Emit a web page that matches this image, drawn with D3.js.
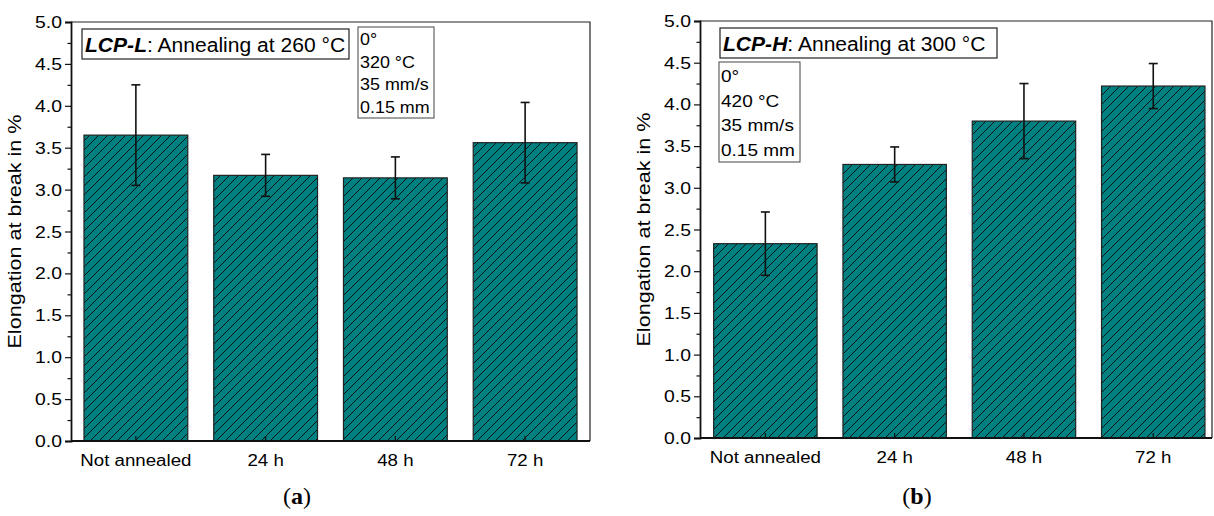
<!DOCTYPE html>
<html>
<head>
<meta charset="utf-8">
<script src="https://cdn.jsdelivr.net/npm/d3@7"></script>
<style>
  html, body { margin: 0; padding: 0; background: #fff; }
  svg { display: block; }
  text { font-family: "Liberation Sans", Arial, sans-serif; fill: #000; }
</style>
</head>
<body>
<svg id="fig" width="1214" height="516"></svg>
<script>
// Categories shared by both panels
const categories = ["Not annealed", "24 h", "48 h", "72 h"];

// Panel (a): LCP-L annealed at 260 °C
const lcpLMean = [3.65, 3.17, 3.14, 3.56];
const lcpLErr  = [0.60, 0.25, 0.25, 0.48];

// Panel (b): LCP-H annealed at 300 °C
const lcpHMean = [2.33, 3.28, 3.80, 4.22];
const lcpHErr  = [0.38, 0.21, 0.45, 0.27];

// Axis ticks
const yMajorTicks = [0, 0.5, 1, 1.5, 2, 2.5, 3, 3.5, 4, 4.5, 5];
const yMinorTicks = [0.25, 0.75, 1.25, 1.75, 2.25, 2.75, 3.25, 3.75, 4.25, 4.75];

const yTitle = "Elongation at break in %";

const panels = [
  {
    mean: lcpLMean, err: lcpLErr,
    material: "LCP-L", anneal: ": Annealing at 260 °C",
    params: ["0°", "320 °C", "35 mm/s", "0.15 mm"],
    caption: "a",
    box: { left: 71, right: 590, top: 22, bottom: 441 },
    outer: 0.1, align: 0.5,
    titleBox: { x: 82, y: 29, w: 267, h: 30 },
    paramBox: { x: 358, y: 27, w: 76, h: 91, size: 16.3, lead: 22.5, first: 18 },
    captionX: 297
  },
  {
    mean: lcpHMean, err: lcpHErr,
    material: "LCP-H", anneal: ": Annealing at 300 °C",
    params: ["0°", "420 °C", "35 mm/s", "0.15 mm"],
    caption: "b",
    box: { left: 700, right: 1212, top: 21, bottom: 438 },
    outer: 0.08, align: 0.66,
    titleBox: { x: 720, y: 28, w: 277, h: 30 },
    paramBox: { x: 719, y: 62, w: 81, h: 100, size: 17.3, lead: 24.5, first: 20 },
    captionX: 917
  }
];

// Widen glyphs slightly, as the figure's sans-serif is set a bit wide
function stretch(sel, f) {
  sel.each(function () {
    const len = this.getComputedTextLength();
    this.setAttribute("textLength", (len * f).toFixed(2));
    this.setAttribute("lengthAdjust", "spacingAndGlyphs");
  });
}

const svg = d3.select("#fig");

// Diagonal hatch over the teal fill
const defs = svg.append("defs");
const pat = defs.append("pattern")
  .attr("id", "hatch")
  .attr("patternUnits", "userSpaceOnUse")
  .attr("width", 9).attr("height", 9);
pat.append("rect").attr("width", 9).attr("height", 9).attr("fill", "#008080");
pat.append("path")
  .attr("d", "M0,9 L9,0 M-2,2 L2,-2 M7,11 L11,7")
  .attr("stroke", "#111").attr("stroke-width", 1);

panels.forEach(p => {
  const b = p.box;
  const g = svg.append("g");

  const x = d3.scaleBand().domain(categories).range([b.left, b.right])
    .paddingInner(0.2).paddingOuter(p.outer).align(p.align);
  const y = d3.scaleLinear().domain([0, 5]).range([b.bottom, b.top]);

  // Bars
  g.selectAll("rect.bar").data(categories).join("rect")
    .attr("class", "bar")
    .attr("x", d => x(d))
    .attr("width", x.bandwidth())
    .attr("y", (d, i) => y(p.mean[i]))
    .attr("height", (d, i) => y(0) - y(p.mean[i]))
    .attr("fill", "url(#hatch)")
    .attr("stroke", "#222").attr("stroke-width", 1.2);

  // Error bars
  const cx = d => x(d) + x.bandwidth() / 2;
  const eb = g.selectAll("g.err").data(categories).join("g").attr("class", "err")
    .attr("stroke", "#111").attr("stroke-width", 1.6);
  eb.append("line")
    .attr("x1", cx).attr("x2", cx)
    .attr("y1", (d, i) => y(p.mean[i] + p.err[i]))
    .attr("y2", (d, i) => y(p.mean[i] - p.err[i]));
  eb.append("line")
    .attr("x1", d => cx(d) - 4.5).attr("x2", d => cx(d) + 4.5)
    .attr("y1", (d, i) => y(p.mean[i] + p.err[i]))
    .attr("y2", (d, i) => y(p.mean[i] + p.err[i]));
  eb.append("line")
    .attr("x1", d => cx(d) - 4.5).attr("x2", d => cx(d) + 4.5)
    .attr("y1", (d, i) => y(p.mean[i] - p.err[i]))
    .attr("y2", (d, i) => y(p.mean[i] - p.err[i]));

  // Frame: top and right borders
  g.append("path")
    .attr("d", `M${b.left},${b.top} H${b.right} V${b.bottom}`)
    .attr("fill", "none").attr("stroke", "#222").attr("stroke-width", 1.2);

  // Y axis with major and minor ticks
  const yAxis = d3.axisLeft(y).tickValues(yMajorTicks).tickFormat(d3.format(".1f")).tickSize(6).tickPadding(3);
  const ya = g.append("g").attr("transform", `translate(${b.left},0)`).call(yAxis);
  ya.selectAll(".tick text").style("font-size", "17.3px")
    .attr("font-family", "Liberation Sans, Arial, sans-serif").attr("fill", "#000");
  stretch(ya.selectAll(".tick text"), 1.12);
  ya.selectAll(".tick line").attr("stroke", "#111").attr("stroke-width", 1.2);
  ya.select(".domain").attr("stroke", "#111").attr("stroke-width", 1.8);
  const yMinor = d3.axisLeft(y).tickValues(yMinorTicks).tickFormat("").tickSize(3.5);
  const ym = g.append("g").attr("transform", `translate(${b.left},0)`).call(yMinor);
  ym.select(".domain").remove();
  ym.selectAll(".tick line").attr("stroke", "#111").attr("stroke-width", 1.2);

  // X axis: ticks point inward at each category
  const xAxis = d3.axisBottom(x).tickSize(-5).tickPadding(13);
  const xa = g.append("g").attr("transform", `translate(0,${b.bottom})`).call(xAxis);
  xa.selectAll(".tick text").style("font-size", "17.3px")
    .attr("font-family", "Liberation Sans, Arial, sans-serif").attr("fill", "#000");
  stretch(xa.selectAll(".tick text"), 1.08);
  xa.selectAll(".tick line").attr("stroke", "#111").attr("stroke-width", 1.2);
  xa.select(".domain").attr("d", `M${b.left},0H${b.right}`).attr("stroke", "#111").attr("stroke-width", 1.8);

  // Y axis title
  const yt = g.append("text")
    .attr("transform", `translate(${b.left - 50},${(b.top + b.bottom) / 2}) rotate(-90)`)
    .attr("text-anchor", "middle")
    .style("font-size", "18.8px")
    .text(yTitle);
  stretch(yt, 1.15);

  // Material / annealing label
  const tb = p.titleBox;
  g.append("rect").attr("x", tb.x).attr("y", tb.y).attr("width", tb.w).attr("height", tb.h)
    .attr("fill", "#fff").attr("stroke", "#222").attr("stroke-width", 1.2);
  const t = g.append("text").attr("x", tb.x + 3).attr("y", tb.y + 23).style("font-size", "19.5px");
  t.append("tspan").attr("font-weight", "bold").attr("font-style", "italic").text(p.material);
  t.append("tspan").text(p.anneal);
  stretch(t, 1.08);

  // Printing parameters
  const pb = p.paramBox;
  g.append("rect").attr("x", pb.x).attr("y", pb.y).attr("width", pb.w).attr("height", pb.h)
    .attr("fill", "#fff").attr("stroke", "#444").attr("stroke-width", 1);
  const pt = g.selectAll("text.param").data(p.params).join("text")
    .attr("class", "param")
    .attr("x", pb.x + 2)
    .attr("y", (d, i) => pb.y + pb.first + i * pb.lead)
    .style("font-size", pb.size + "px")
    .text(d => d);
  stretch(pt, 1.1);

  // Sub-figure caption
  const c = svg.append("text")
    .attr("x", p.captionX).attr("y", 504)
    .attr("text-anchor", "middle")
    .style("font-size", "24px")
    .style("font-family", "Liberation Serif, 'Times New Roman', serif");
  c.append("tspan").text("(");
  c.append("tspan").attr("font-weight", "bold").text(p.caption);
  c.append("tspan").text(")");
});
</script>
</body>
</html>
